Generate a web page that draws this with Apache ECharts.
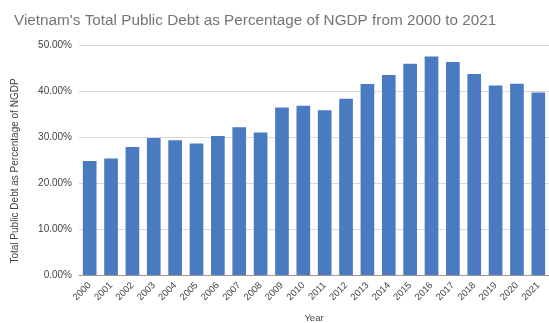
<!DOCTYPE html>
<html>
<head>
<meta charset="utf-8">
<script src="https://cdn.jsdelivr.net/npm/echarts@6/dist/echarts.min.js"></script>
<style>html,body{margin:0;padding:0;background:#fff}#c{width:549px;height:323px}</style>
</head>
<body>
<div id="c"></div>
<script>
var years = ["2000","2001","2002","2003","2004","2005","2006","2007","2008","2009","2010","2011","2012","2013","2014","2015","2016","2017","2018","2019","2020","2021"];
var debtPct = [24.8,25.3,27.8,29.8,29.3,28.6,30.2,32.1,31.0,36.4,36.8,35.8,38.3,41.5,43.5,45.9,47.5,46.3,43.7,41.2,41.6,39.7];
var yTicks = [0,10,20,30,40,50];

var chart = echarts.init(document.getElementById('c'), null, {renderer:'canvas'});
chart.setOption({
  animation:false,
  backgroundColor:'#ffffff',
  title:{
    text:"Vietnam's Total Public Debt as Percentage of NGDP from 2000 to 2021",
    left:9, top:8,
    textStyle:{fontFamily:'Liberation Sans, Arial, sans-serif',fontSize:15.3,fontWeight:'normal',color:'#757575'}
  },
  grid:{left:79,right:0,top:45,bottom:48,containLabel:false,outerBoundsMode:'none'},
  xAxis:{
    type:'category',
    data:years,
    name:'Year',
    nameLocation:'middle',
    nameGap:38,
    nameTextStyle:{fontFamily:'Liberation Sans, Arial, sans-serif',fontSize:9.5,color:'#444'},
    axisTick:{show:false},
    axisLine:{lineStyle:{color:'#999',width:1}},
    axisLabel:{rotate:45,fontFamily:'Liberation Sans, Arial, sans-serif',fontSize:9.5,color:'#444',margin:9,interval:0}
  },
  yAxis:{
    type:'value',
    min:yTicks[0],max:yTicks[yTicks.length-1],interval:10,
    name:'Total Public Debt as Percentage of NGDP',
    nameLocation:'middle',
    nameGap:59,
    nameTextStyle:{fontFamily:'Liberation Sans, Arial, sans-serif',fontSize:10,color:'#444',padding:[0,22,0,0]},
    axisLine:{show:false},
    axisTick:{show:false},
    splitLine:{lineStyle:{color:'#d9d9d9',width:1}},
    axisLabel:{formatter:function(v){return v.toFixed(2)+'%';},fontFamily:'Liberation Sans, Arial, sans-serif',fontSize:10,color:'#444',margin:7}
  },
  series:[{
    type:'bar',
    data:debtPct,
    barCategoryGap:'36%',
    itemStyle:{color:'#4a7bc0'}
  }]
});
</script>
</body>
</html>
